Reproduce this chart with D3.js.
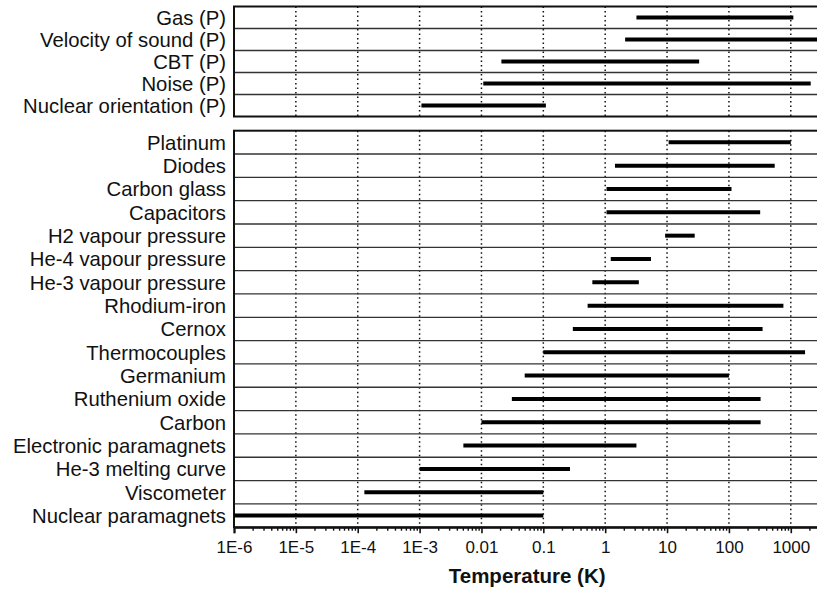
<!DOCTYPE html>
<html>
<head>
<meta charset="utf-8">
<script src="https://cdn.jsdelivr.net/npm/d3@7"></script>
<style>
  html, body { margin: 0; padding: 0; background: #fff; overflow: hidden; }
  svg { display: block; }
  text { font-family: "Liberation Sans", Arial, sans-serif; fill: #111; }
</style>
</head>
<body>
<svg id="chart" width="817" height="589"></svg>
<script>
// Primary methods (P)
const topCategories = ["Gas (P)", "Velocity of sound (P)", "CBT (P)", "Noise (P)", "Nuclear orientation (P)"];
const topLow  = [3.2, 2.1, 0.021, 0.0107, 0.00107];
const topHigh = [1100, 3000, 33, 2100, 0.11];

// Secondary thermometers
const bottomCategories = ["Platinum", "Diodes", "Carbon glass", "Capacitors", "H2 vapour pressure",
  "He-4 vapour pressure", "He-3 vapour pressure", "Rhodium-iron", "Cernox", "Thermocouples",
  "Germanium", "Ruthenium oxide", "Carbon", "Electronic paramagnets", "He-3 melting curve",
  "Viscometer", "Nuclear paramagnets"];
const bottomLow  = [10.6, 1.44, 1.05, 1.05, 9.3, 1.23, 0.62, 0.52, 0.3, 0.1, 0.05, 0.031, 0.01, 0.0051, 0.001, 0.000128, 1e-6];
const bottomHigh = [1000, 550, 110, 320, 28, 5.5, 3.5, 760, 350, 1700, 100, 325, 325, 3.2, 0.27, 0.1, 0.1];

const tickValues = [1e-6, 1e-5, 1e-4, 1e-3, 0.01, 0.1, 1, 10, 100, 1000];
const tickLabels = ["1E-6", "1E-5", "1E-4", "1E-3", "0.01", "0.1", "1", "10", "100", "1000"];
const xDomain = [1e-6, 3000];
const axisTitle = "Temperature (K)";

const svg = d3.select("#chart");
const x = d3.scaleLog().domain(xDomain).range([234, 820.3]);

const topBand = d3.scaleBand().domain(topCategories).range([6.5, 116.5]).padding(0);
const bottomBand = d3.scaleBand().domain(bottomCategories).range([130.7, 527.2]).padding(0);

function drawPanel(cats, low, high, band) {
  const g = svg.append("g");
  const [y0, y1] = band.range();
  const [xa, xb] = x.range();

  // dotted decade gridlines
  g.selectAll("line.grid")
    .data(tickValues.slice(1))
    .join("line")
    .attr("x1", d => x(d)).attr("x2", d => x(d))
    .attr("y1", y0).attr("y2", y1)
    .attr("stroke", "#111").attr("stroke-width", 1.5)
    .attr("stroke-dasharray", "1.5,3");

  // row separators
  g.selectAll("line.row")
    .data(cats.slice(1))
    .join("line")
    .attr("x1", xa).attr("x2", xb + 10)
    .attr("y1", d => band(d)).attr("y2", d => band(d))
    .attr("stroke", "#333").attr("stroke-width", 1.3);

  // frame
  g.append("rect")
    .attr("x", xa).attr("y", y0)
    .attr("width", xb - xa + 20).attr("height", y1 - y0)
    .attr("fill", "none").attr("stroke", "#111").attr("stroke-width", 2);

  // range bars
  g.selectAll("line.bar")
    .data(cats)
    .join("line")
    .attr("x1", (d, i) => x(low[i]))
    .attr("x2", (d, i) => x(high[i]))
    .attr("y1", d => band(d) + band.bandwidth() / 2)
    .attr("y2", d => band(d) + band.bandwidth() / 2)
    .attr("stroke", "#000").attr("stroke-width", 4);

  // category labels
  g.selectAll("text.lab")
    .data(cats)
    .join("text")
    .attr("x", 226)
    .attr("y", d => band(d) + band.bandwidth() / 2)
    .attr("dy", "0.36em")
    .attr("text-anchor", "end")
    .attr("font-size", "20.3px")
    .text(d => d);
}

drawPanel(topCategories, topLow, topHigh, topBand);
drawPanel(bottomCategories, bottomLow, bottomHigh, bottomBand);

// bottom axis: major ticks at decades, minor ticks between
const axisY = bottomBand.range()[1];
const minorTicks = [];
for (let e = -6; e <= 3; e++) {
  for (let m = 2; m <= 9; m++) {
    const v = m * Math.pow(10, e);
    if (v <= xDomain[1]) minorTicks.push(v);
  }
}
const axisG = svg.append("g").attr("transform", `translate(0,${axisY})`);
axisG.call(d3.axisBottom(x).tickValues(minorTicks).tickSize(3.5).tickFormat(""))
  .call(g => g.select(".domain").remove())
  .call(g => g.selectAll("line").attr("stroke", "#111").attr("stroke-width", 1.4));
axisG.append("g")
  .call(d3.axisBottom(x).tickValues(tickValues).tickSize(6).tickPadding(8)
    .tickFormat((d, i) => tickLabels[i]))
  .call(g => g.select(".domain").attr("stroke", "#111").attr("stroke-width", 2))
  .call(g => g.selectAll("line").attr("stroke", "#111").attr("stroke-width", 1.6))
  .call(g => g.selectAll("text")
    .attr("font-size", "17px")
    .attr("font-family", "'Liberation Sans', Arial, sans-serif")
    .attr("fill", "#111"));

svg.append("text")
  .attr("x", (x.range()[0] + x.range()[1]) / 2)
  .attr("y", 582.5)
  .attr("text-anchor", "middle")
  .attr("font-size", "20.5px")
  .attr("font-weight", "bold")
  .text(axisTitle);
</script>
</body>
</html>
